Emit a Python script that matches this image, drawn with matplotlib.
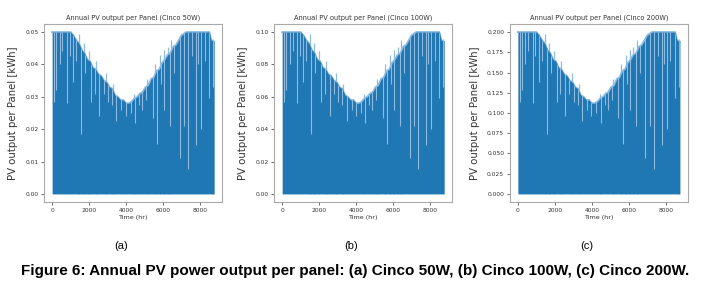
import numpy as np
import matplotlib
matplotlib.use("Agg")
import matplotlib.pyplot as plt

# rated output of each panel (kW) -> hourly output is a fraction of it
capacities = [0.05, 0.10, 0.20]
panel_names = ["Cinco 50W", "Cinco 100W", "Cinco 200W"]
panel_tags = ["(a)", "(b)", "(c)"]

# upper envelope of the daily peaks, as a fraction of rated output
env_hours = [0, 250, 500, 750, 1000, 1150, 1300, 1450, 1600, 1750, 1900,
             2050, 2200, 2350, 2500, 2650, 2800, 2950, 3100, 3250, 3400,
             3550, 3700, 3850, 4000, 4150, 4300, 4450, 4600, 4750, 4900,
             5050, 5200, 5350, 5500, 5650, 5800, 5950, 6100, 6250, 6400,
             6550, 6700, 6850, 7000, 7250, 7500, 7750, 8000, 8250, 8500,
             8600, 8760]
env_frac = [1.0, 1.0, 1.0, 1.0, 1.0, 0.98, 0.95, 0.93, 0.89, 0.87, 0.83,
            0.82, 0.78, 0.77, 0.74, 0.73, 0.70, 0.69, 0.66, 0.65, 0.61,
            0.60, 0.58, 0.58, 0.56, 0.56, 0.57, 0.59, 0.60, 0.62, 0.63,
            0.66, 0.67, 0.71, 0.72, 0.76, 0.77, 0.81, 0.83, 0.86, 0.87,
            0.91, 0.92, 0.95, 0.98, 1.0, 1.0, 1.0, 1.0, 1.0, 1.0,
            0.95, 0.94]

# cloudy days: low daily peaks
dip_hours = [90, 217, 400, 560, 795, 950, 1120, 1300, 1570, 1800, 2110,
             2300, 2560, 2780, 3010, 3250, 3480, 3750, 3970, 4250, 4490,
             4700, 4870, 5100, 5440, 5680, 5900, 6050, 6360, 6600, 6900,
             7140, 7350, 7550, 7770, 7900, 8040, 8250, 8490, 8700]
dip_frac = [0.57, 0.64, 0.80, 0.88, 0.56, 0.85, 0.69, 0.82, 0.37, 0.75, 0.57,
            0.62, 0.48, 0.62, 0.57, 0.55, 0.45, 0.52, 0.48, 0.50, 0.44,
            0.55, 0.52, 0.58, 0.47, 0.31, 0.68, 0.52, 0.42, 0.75, 0.22,
            0.42, 0.155, 0.85, 0.30, 0.80, 0.40, 0.82, 0.59, 0.66]

# clear days standing above the envelope
peak_hours = [1480, 1700, 1980, 2350, 2900, 3300, 4450, 5150, 5550, 5850,
              6050, 6250, 6450, 8700]
peak_frac = [0.99, 0.93, 0.88, 0.82, 0.75, 0.68, 0.62, 0.71, 0.80, 0.86,
             0.89, 0.91, 0.95, 0.96]

blue = "#1f77b4"
light = "#8fbbe0"
txt = "#333333"

fig = plt.figure(figsize=(7.10, 2.89), dpi=100)
lefts = [0.062, 0.386, 0.718]

for i, cap in enumerate(capacities):
    ax = fig.add_axes([lefts[i], 0.301, 0.251, 0.616])
    h = np.array(env_hours)
    env = np.array(env_frac) * cap

    ax.vlines(peak_hours, 0, np.array(peak_frac) * cap, color=light,
              linewidth=0.9, zorder=1)
    ax.plot(h, env, color=light, linewidth=1.4, zorder=1)
    poly = ax.fill_between(h, 0, env, color=blue, linewidth=0, zorder=2)
    lc = ax.vlines(dip_hours, np.array(dip_frac) * cap, cap, color=light,
                   linewidth=0.8, zorder=3)
    lc.set_clip_path(poly.get_paths()[0], poly.get_transform())

    ax.set_title("Annual PV output per Panel (" + panel_names[i] + ")",
                 fontsize=4.8, color=txt, pad=3)
    ax.set_xlabel("Time (hr)", fontsize=4.6, color=txt, labelpad=2)
    ax.set_ylabel("PV output per Panel [kWh]", fontsize=7.3, color=txt,
                  labelpad=5)
    ax.tick_params(labelsize=4.3, colors=txt, length=2, width=0.5, pad=2)
    ax.set_xticks([0, 2000, 4000, 6000, 8000])
    for s in ax.spines.values():
        s.set_color("#aaaaaa")
        s.set_linewidth(0.8)

    fig.text(lefts[i] + 0.108, 0.149, panel_tags[i], fontsize=8,
             ha="center", va="center", family="Liberation Sans")

fig.text(0.5, 0.062,
         "Figure 6: Annual PV power output per panel: (a) Cinco 50W, "
         "(b) Cinco 100W, (c) Cinco 200W.",
         fontsize=11, fontweight="bold", ha="center", va="center",
         family="Liberation Sans")

fig.savefig("out.png", dpi=100)
